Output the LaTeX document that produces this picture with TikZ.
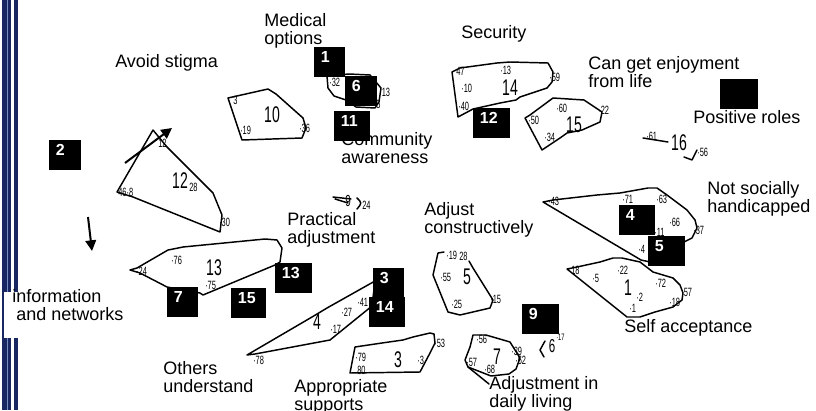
\documentclass[tikz,border=0pt]{standalone}
\usepackage{fontspec}
\setmainfont{Liberation Sans}
\newfontfamily\itemfont{Liberation Sans}[FakeStretch=0.62]
\usepackage{tikz}
\usetikzlibrary{arrows.meta}

\definecolor{stripenavy}{RGB}{24,38,98}
\definecolor{stripelight}{RGB}{120,140,190}

\tikzset{
  hull/.style={line width=1.1pt, line join=round, line cap=round},
  item/.style={font=\itemfont\fontsize{9}{9}\selectfont, inner sep=0pt, anchor=west},
  clusterno/.style={font=\itemfont\fontsize{17}{17}\selectfont, inner sep=0pt},
  caption/.style={font=\fontsize{13.5}{13.5}\selectfont, anchor=base west, inner sep=0pt, align=left},
  numbox/.style={fill=black, text=white, font=\bfseries\fontsize{12}{12}\selectfont, anchor=north west,
    inner xsep=5pt, inner ysep=2.5pt, text height=9pt, text depth=8.5pt, align=left, text width=#1},
  pointer/.style={line width=1.5pt, -{Triangle[length=8pt,width=8pt]}}
}

\begin{document}
\begin{tikzpicture}[x=0.75pt,y=0.75pt,yscale=-1,xscale=1]
\useasboundingbox (0,0) rectangle (816,410);

%Shape: left border stripes
\fill [stripenavy] (2,0) rectangle (10.5,410) ;
\draw [stripelight, line width=0.6pt] (7.5,0) -- (7.5,410) ;
\fill [stripenavy] (14,0) rectangle (17.5,410) ;
\fill [white] (4,292) rectangle (22,338) ;

%Shape: Polygon, cluster 10
\draw [hull] (228,98) -- (268,89) -- (276,94) -- (303,118) -- (306,128) -- (302,138) -- (242,140) -- cycle ;
\draw (233,100) node (h10a) [item] {3};
\draw (240,130) node (h10b) [item] {·19};
\draw (299,128) node (h10c) [item] {·36};
\draw (272,115) node (h10n) [clusterno] {10};

%Shape: Polygon, cluster 12
\draw [hull] (153,130) -- (167,147) -- (213,193) -- (222,215) -- (220,232) -- (133,197) -- (117,192) -- cycle ;
\draw (158,143) node (h12a) [item] {12};
\draw (118,192) node (h12b) [item] {46·8};
\draw (189,187) node (h12c) [item] {28};
\draw (219,222) node (h12d) [item] {·30};
\draw (180,181) node (h12n) [clusterno] {12};

%Shape: Polygon, cluster under 1 and 6
\draw [hull] (327,76) -- (328,88) -- (334,96) -- (346,100) -- (356,107) -- (375,108) -- (379,102) -- (381,88) -- (370,75) -- (349,74) -- cycle ;
\draw (329,82) node (h6a) [item] {·32};
\draw (379,92) node (h6b) [item] {·13};
\draw (376,104) node (h6c) [item] {5};

%Shape: Polygon, cluster 14
\draw [hull] (452,72) -- (460,68) -- (497,63) -- (510,62) -- (548,63) -- (553,72) -- (552,82) -- (547,88) -- (520,97) -- (516,100) -- (500,103) -- (473,109) -- (458,117) -- cycle ;
\draw (456,71) node (h14a) [item] {47};
\draw (500,70) node (h14b) [item] {·13};
\draw (461,88) node (h14c) [item] {·10};
\draw (458,106) node (h14d) [item] {·40};
\draw (549,77) node (h14e) [item] {·59};
\draw (510,88) node (h14n) [clusterno] {14};

%Shape: Polygon, cluster 15
\draw [hull] (525,118) -- (530,115) -- (553,98) -- (584,100) -- (602,112) -- (600,122) -- (582,130) -- (567,133) -- (560,138) -- (542,150) -- cycle ;
\draw (528,120) node (h15a) [item] {·50};
\draw (556,108) node (h15b) [item] {·60};
\draw (544,137) node (h15c) [item] {·34};
\draw (598,110) node (h15d) [item] {·22};
\draw (574,125) node (h15n) [clusterno] {15};

%Shape: cluster 16
\draw [hull] (643,138) -- (668,142) ;
\draw [hull] (684,157) -- (692,160) -- (697,150) ;
\draw (646,136) node (h16a) [item] {·61};
\draw (697,152) node (h16b) [item] {·56};
\draw (679,143) node (h16n) [clusterno] {16};

%Shape: cluster 9
\draw [hull] (333,197) -- (351,199) (335,199) -- (348,203) ;
\draw [hull] (357,198) .. controls (362,203) .. (357,209) ;
\draw (345,201) node (h9n) [item, font=\itemfont\fontsize{12}{12}\selectfont] {9};
\draw (362,205) node (h9a) [item] {24};

%Shape: Polygon, cluster 13
\draw [hull] (130,270) -- (137,268) -- (168,250) -- (183,247) -- (265,239) -- (277,240) -- (282,248) -- (280,262) -- (275,265) -- (203,295) -- (200,293) -- (167,287) -- (140,273) -- cycle ;
\draw (136,271) node (h13a) [item] {·24};
\draw (171,260) node (h13b) [item] {·76};
\draw (205,285) node (h13c) [item] {·75};
\draw (214,268) node (h13n) [clusterno] {13};

%Shape: Polygon, cluster 4
\draw [hull] (247,355) -- (312,317) -- (327,308) -- (375,281) -- (372,306) -- (330,340) -- (255,354) -- cycle ;
\draw (253,360) node (h4a) [item] {·78};
\draw (341,312) node (h4b) [item] {·27};
\draw (357,302) node (h4c) [item] {·41};
\draw (330,329) node (h4d) [item] {·17};
\draw (317,322) node (h4n) [clusterno] {4};

%Shape: Polygon, cluster 3
\draw [hull] (355,347) -- (382,343) -- (403,340) -- (413,337) -- (430,333) -- (434,334) -- (435,343) -- (430,353) -- (420,372) -- (350,373) -- cycle ;
\draw (355,357) node (h3a) [item] {·79};
\draw (357,370) node (h3b) [item] {80};
\draw (417,360) node (h3c) [item] {·3};
\draw (434,343) node (h3d) [item] {·53};
\draw (398,360) node (h3n) [clusterno] {3};

%Shape: Polygon, cluster 5
\draw [hull] (444,252) -- (438,253) -- (433,275) -- (448,312) -- (460,315) -- (490,308) -- (493,300) -- (473,268) -- (469,261) ;
\draw (446,255) node (h5a) [item] {·19};
\draw (459,256) node (h5b) [item] {28};
\draw (440,277) node (h5c) [item] {·55};
\draw (451,304) node (h5d) [item] {·25};
\draw (490,299) node (h5e) [item] {·15};
\draw (467,277) node (h5n) [clusterno] {5};

%Shape: Polygon, cluster 7
\draw [hull] (473,335) -- (486,335) -- (510,342) -- (520,358) -- (516,369) -- (509,374) -- (491,376) -- (468,367) -- (465,360) -- (470,347) -- cycle ;
\draw [hull] (468,367) -- (489,384) ;
\draw (476,339) node (h7a) [item] {·56};
\draw (466,362) node (h7b) [item] {·57};
\draw (484,369) node (h7c) [item] {·68};
\draw (511,351) node (h7d) [item] {·39};
\draw (515,360) node (h7e) [item] {·62};
\draw (497,357) node (h7n) [clusterno] {7};

%Shape: cluster 6
\draw [hull] (545,341) -- (540,350) -- (544,357) ;
\draw (552,346) node (h6n) [clusterno, font=\itemfont\fontsize{14}{14}\selectfont] {6};
\draw (556,337) node (h6d) [item, font=\itemfont\fontsize{7}{7}\selectfont] {·17};

%Shape: Polygon, cluster under 4 and 5
\draw [hull] (543,202) -- (553,200) -- (597,195) -- (620,193) -- (648,188) -- (657,188) -- (667,195) -- (687,210) -- (695,220) -- (697,228) -- (692,238) -- (684,242) -- (650,262) -- (641,260) -- cycle ;
\draw (548,201) node (h45a) [item] {·43};
\draw (622,199) node (h45b) [item] {·71};
\draw (656,199) node (h45c) [item] {·63};
\draw (669,222) node (h45d) [item] {·66};
\draw (693,230) node (h45e) [item] {·37};
\draw (654,232) node (h45f) [item] {·11};
\draw (638,249) node (h45g) [item] {·4};

%Shape: Polygon, cluster 1
\draw [hull] (567,269) -- (577,267) -- (600,262) -- (613,258) -- (622,258) -- (640,262) -- (653,272) -- (673,278) -- (680,285) -- (683,293) -- (682,300) -- (673,307) -- (655,312) -- (640,317) -- (627,317) -- cycle ;
\draw (571,270) node (h1a) [item] {18};
\draw (592,278) node (h1b) [item] {·5};
\draw (617,270) node (h1c) [item] {·22};
\draw (655,283) node (h1d) [item] {·72};
\draw (681,292) node (h1e) [item] {·57};
\draw (636,297) node (h1f) [item] {·2};
\draw (669,302) node (h1g) [item] {·18};
\draw (629,308) node (h1h) [item] {·1};
\draw (628,288) node (h1n) [clusterno] {1};

% Text Node
\draw (264,45) node (medical) [caption] {Medical\\options};
% Text Node
\draw (115,68) node (stigma) [caption] {Avoid stigma};
% Text Node
\draw (461,39) node (security) [caption] {Security};
% Text Node
\draw (588,88) node (enjoy) [caption] {Can get enjoyment\\from life};
% Text Node
\draw (693,123) node (roles) [caption] {Positive roles};
% Text Node
\draw (341,163) node (community) [caption] {Community\\awareness};
% Text Node
\draw (707,212) node (handicap) [caption] {Not socially\\handicapped};
% Text Node
\draw (287,243) node (practical) [caption] {Practical\\adjustment};
% Text Node
\draw (424,233) node (adjust) [caption] {Adjust\\constructively};
% Text Node
\draw (12,320) node (info) [caption] {information\\\hspace{3pt}and networks};
% Text Node
\draw (624,332) node (selfacc) [caption] {Self acceptance};
% Text Node
\draw (163,392) node (others) [caption] {Others\\understand};
% Text Node
\draw (294,410) node (supports) [caption] {Appropriate\\supports};
% Text Node
\draw (489,407) node (daily) [caption] {Adjustment in\\daily living};

% Arrows
\coordinate (upTail) at (125,163);
\coordinate (upHead) at (172,128);
\coordinate (downTail) at (88,217);
\coordinate (downHead) at (92,251);
\draw [pointer] (upTail) -- (upHead);
\draw [pointer] (downTail) -- (downHead);

% Number boxes
\draw (314,47) node (box1) [numbox=13.25pt] {1};
\draw (345,76) node (box6) [numbox=14pt] {6};
\draw (334,111) node (box11) [numbox=17pt] {11};
\draw (473,108) node (box12) [numbox=17.75pt] {12};
\draw (720,79) node (boxroles) [numbox=18.5pt] {};
\draw (49,140) node (box2) [numbox=14pt] {2};
\draw (275,263) node (box13) [numbox=17.75pt] {13};
\draw (231,288) node (box15) [numbox=16.25pt] {15};
\draw (167,287) node (box7) [numbox=13.25pt] {7};
\draw (373,268) node (box3) [numbox=13.25pt] {3};
\draw (369,297) node (box14) [numbox=17pt] {14};
\draw (522,304) node (box9) [numbox=17.75pt] {9};
\draw (619,205) node (box4) [numbox=17pt] {4};
\draw (648,236) node (box5) [numbox=17.75pt] {5};

\end{tikzpicture}
\end{document}
